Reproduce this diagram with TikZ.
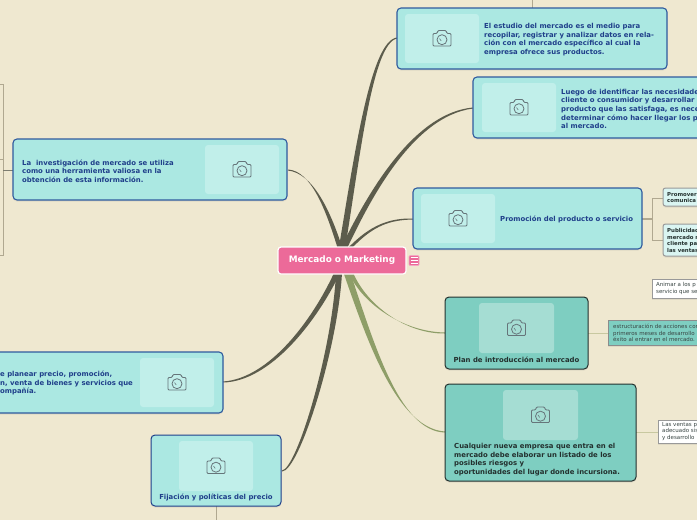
\documentclass[tikz,border=0pt]{standalone}
\usepackage{fontspec}
\usetikzlibrary{shadows}
\setmainfont{DejaVu Sans}
\definecolor{bgc}{HTML}{EFE8D0}
\definecolor{aqua}{HTML}{ABE8E2}
\definecolor{aquain}{HTML}{C1EFEA}
\definecolor{navy}{HTML}{1F3F8A}
\definecolor{edge}{HTML}{2F5A9E}
\definecolor{teal}{HTML}{7ECEC1}
\definecolor{tealin}{HTML}{A5DDD3}
\definecolor{darkt}{HTML}{23302E}
\definecolor{pinkc}{HTML}{EC6A99}
\definecolor{branch}{HTML}{5C5C4C}
\definecolor{greenb}{HTML}{8E9E68}
\definecolor{thin}{HTML}{B0A890}
\definecolor{lightl}{HTML}{C8C8A0}
\definecolor{icon}{HTML}{66757A}
\tikzset{x=1pt,y=-1pt,
 softshadow/.style={drop shadow={opacity=.14,shadow xshift=0pt,shadow yshift=-1.5pt}},
 topic/.style={draw=edge,line width=1.1pt,fill=aqua,rounded corners=4pt,softshadow},
 topicb/.style={draw=navy,line width=1pt,fill=aqua,rounded corners=4pt,softshadow},
 tealbox/.style={draw=darkt,line width=1pt,fill=teal,rounded corners=4pt,softshadow},
 txt/.style={font=\fontsize{6.9}{8.6}\selectfont\bfseries,text=navy,align=left,inner sep=0pt},
 ttxt/.style={txt,text=darkt},
 sub/.style={draw=gray!80,line width=1pt,fill=aquain!60!white,rounded corners=2.5pt},
 stxt/.style={font=\fontsize{5.4}{6.6}\selectfont\bfseries,text=darkt,align=left,inner sep=0pt},
 ntxt/.style={font=\fontsize{5.5}{6.6}\selectfont,text=darkt!90,align=left,inner sep=0pt},
 conn/.style={draw=thin,line width=1pt},
}
\newcommand{\cam}[2]{%
 \begin{scope}[shift={(#1,#2)}]
  \draw[icon,line width=.9pt,rounded corners=1pt] (-9,-5) -- (-5,-5) -- (-4,-8) -- (4,-8) -- (5,-5) -- (9,-5) -- (9,7.5) -- (-9,7.5) -- cycle;
  \draw[icon,line width=.8pt] (0,1.2) circle (5);
  \draw[icon,line width=.6pt] (-2.5,0) arc (180:110:2.6);
 \end{scope}}
\newcommand{\photo}[5]{% x1 y1 x2 y2 colour
 \fill[#5,rounded corners=3pt] (#1,#2) rectangle (#3,#4);
 \pgfmathsetmacro{\cx}{(#1+#3)/2}\pgfmathsetmacro{\cy}{(#2+#4)/2}
 \cam{\cx}{\cy}}
\def\tw{3}
\newcommand{\tape}[9]{% x0 y0 c1x c1y c2x c2y x1 y1 colour
 \fill[#9] (#1-\tw,#2) .. controls (#3-.9*\tw,#4) and (#5-.3*\tw,#6-.5*\tw) .. (#7,#8-.5) -- (#7,#8+.5) .. controls (#5+.3*\tw,#6+.5*\tw) and (#3+.9*\tw,#4) .. (#1+\tw,#2) -- cycle;}
\begin{document}
\begin{tikzpicture}
\path[use as bounding box] (0,0) rectangle (697,520);
\clip (0,0) rectangle (697,520);
\fill[bgc] (0,0) rectangle (697,520);
% thin connectors
\draw[conn,line width=.8pt] (0,84) -- (3,84) -- (3,255) -- (0,255);
\draw[conn,line width=.8pt] (0,159) -- (3,159);
\draw[conn,line width=1pt,draw=branch!80] (3,170) -- (13,170);
\draw[conn,line width=.8pt] (532,0) -- (532,8);
\draw[conn,line width=.8pt] (216,506) -- (216,520);
\draw[conn,line width=1.4pt] (642,219) -- (652,219);
\draw[conn,line width=.8pt] (663,198) -- (652,198) -- (652,240) -- (663,240);
\draw[draw=lightl,line width=.8pt] (588,333) -- (608,333);
\draw[draw=lightl,line width=.8pt] (636,432) -- (658,432);
% main branches
\def\tw{3.2}
\tape{342}{248}{358}{150}{372}{42}{397}{38}{branch}
\tape{344}{248}{365}{205}{410}{115}{473}{108}{branch}
\def\tw{2}
\tape{350}{248}{372}{225}{390}{219}{413}{219}{branch}
\def\tw{2.4}
\tape{340}{248}{328}{210}{312}{172}{288}{170}{branch}
\def\tw{3}
\tape{337}{273}{315}{320}{270}{380}{223}{382}{branch}
\def\tw{3}
\tape{339}{273}{335}{350}{298}{470}{282}{471}{branch}
\def\tw{2.2}
\tape{351}{273}{365}{305}{405}{333}{445}{333}{greenb}
\def\tw{3.4}
\tape{347}{273}{370}{340}{398}{430}{445}{432}{greenb}
% centre
\node[draw=white,line width=1.2pt,fill=pinkc,rounded corners=3pt,minimum width=128pt,minimum height=27pt,inner sep=0pt,text=white,font=\fontsize{8.9}{10}\selectfont\bfseries] (root) at (342,260.5) {Mercado o Marketing};
\node[fill=pinkc,draw=pinkc!60,line width=.6pt,rounded corners=1pt,minimum size=10pt,inner sep=0pt] (menu) at (414,260.5) {};
\draw[white,line width=.6pt] (410.5,257.5) -- (417.5,257.5) (410.5,260.5) -- (417.5,260.5) (410.5,263.5) -- (417.5,263.5);
% topics
\path[topic] (397,8) rectangle (667,69);
\photo{405}{14}{479}{63}{aquain}
\node[txt,anchor=west] (t1) at (484,39.5) {El estudio del mercado es el medio para\\recopilar, registrar y analizar datos en rela-\\ción con el mercado específico al cual la\\empresa ofrece sus productos.};
\path[topic] (473,77) rectangle (710,138);
\photo{482}{83}{556}{132}{aquain}
\node[txt,anchor=west] (t2) at (561,109) {Luego de identificar las necesidade\\cliente o consumidor y desarrollar\\producto que las satisfaga, es nece\\determinar cómo hacer llegar los p\\al mercado.};
\path[topic] (413,188) rectangle (642,249);
\photo{421}{194}{495}{243}{aquain}
\node[txt,anchor=west] (t3) at (500,219.5) {Promoción del producto o servicio};
\path[topic] (13,139) rectangle (287,200);
\photo{205}{145}{279}{194}{aquain}
\node[txt,anchor=west] (t4) at (22,171) {La \ investigación de mercado se utiliza\\como una herramienta valiosa en la\\obtención de esta información.};
\path[topic] (-20,352) rectangle (223,413);
\photo{140}{358}{214}{407}{aquain}
\node[txt,anchor=west] (t5) at (0,383) {e planear precio, promoción,\\n, venta de bienes y servicios que\\ompañía.};
\path[topicb] (151,435) rectangle (281,506);
\photo{179}{441}{253}{491}{aquain}
\node[txt,anchor=center] (t6) at (216,497.5) {Fijación y políticas del precio};
\path[tealbox] (445,297) rectangle (588,369);
\photo{479}{303}{554}{353}{tealin}
\node[ttxt,anchor=center] (t7) at (516.5,360) {Plan de introducción al mercado};
\path[tealbox] (445,384) rectangle (636,481);
\photo{503}{390}{578}{440}{tealin}
\node[ttxt,anchor=west] (t8) at (454,459.5) {Cualquier nueva empresa que entra en el\\mercado debe elaborar un listado de los\\posibles riesgos y\\oportunidades del lugar donde incursiona.};
% subtopics
\path[sub,softshadow] (663,188) rectangle (710,206);
\node[stxt,anchor=west] (s1) at (667,197.5) {Promover\\comunica};
\path[sub,softshadow] (663,224) rectangle (710,256);
\node[stxt,anchor=west] (s2) at (667,240.5) {Publicidad\\mercado n\\cliente pa\\las ventas};
\path[draw=gray!80,fill=white,line width=.9pt,softshadow] (652,279) rectangle (710,298);
\node[ntxt,anchor=west] (s3) at (656,288.5) {Animar a los p\\servicio que se};
\path[draw=gray!90,fill=teal,line width=.9pt,softshadow] (608,320) rectangle (710,345);
\node[ntxt,anchor=west] (s4) at (613,333) {estructuración de acciones cor\\primeros meses de desarrollo\\éxito al entrar en el mercado.};
\path[draw=gray!80,fill=white,line width=.9pt,softshadow] (658,420) rectangle (710,443);
\node[ntxt,anchor=west] (s5) at (662,431.5) {Las ventas p\\adecuado sis\\y desarrollo};
\end{tikzpicture}
\end{document}
